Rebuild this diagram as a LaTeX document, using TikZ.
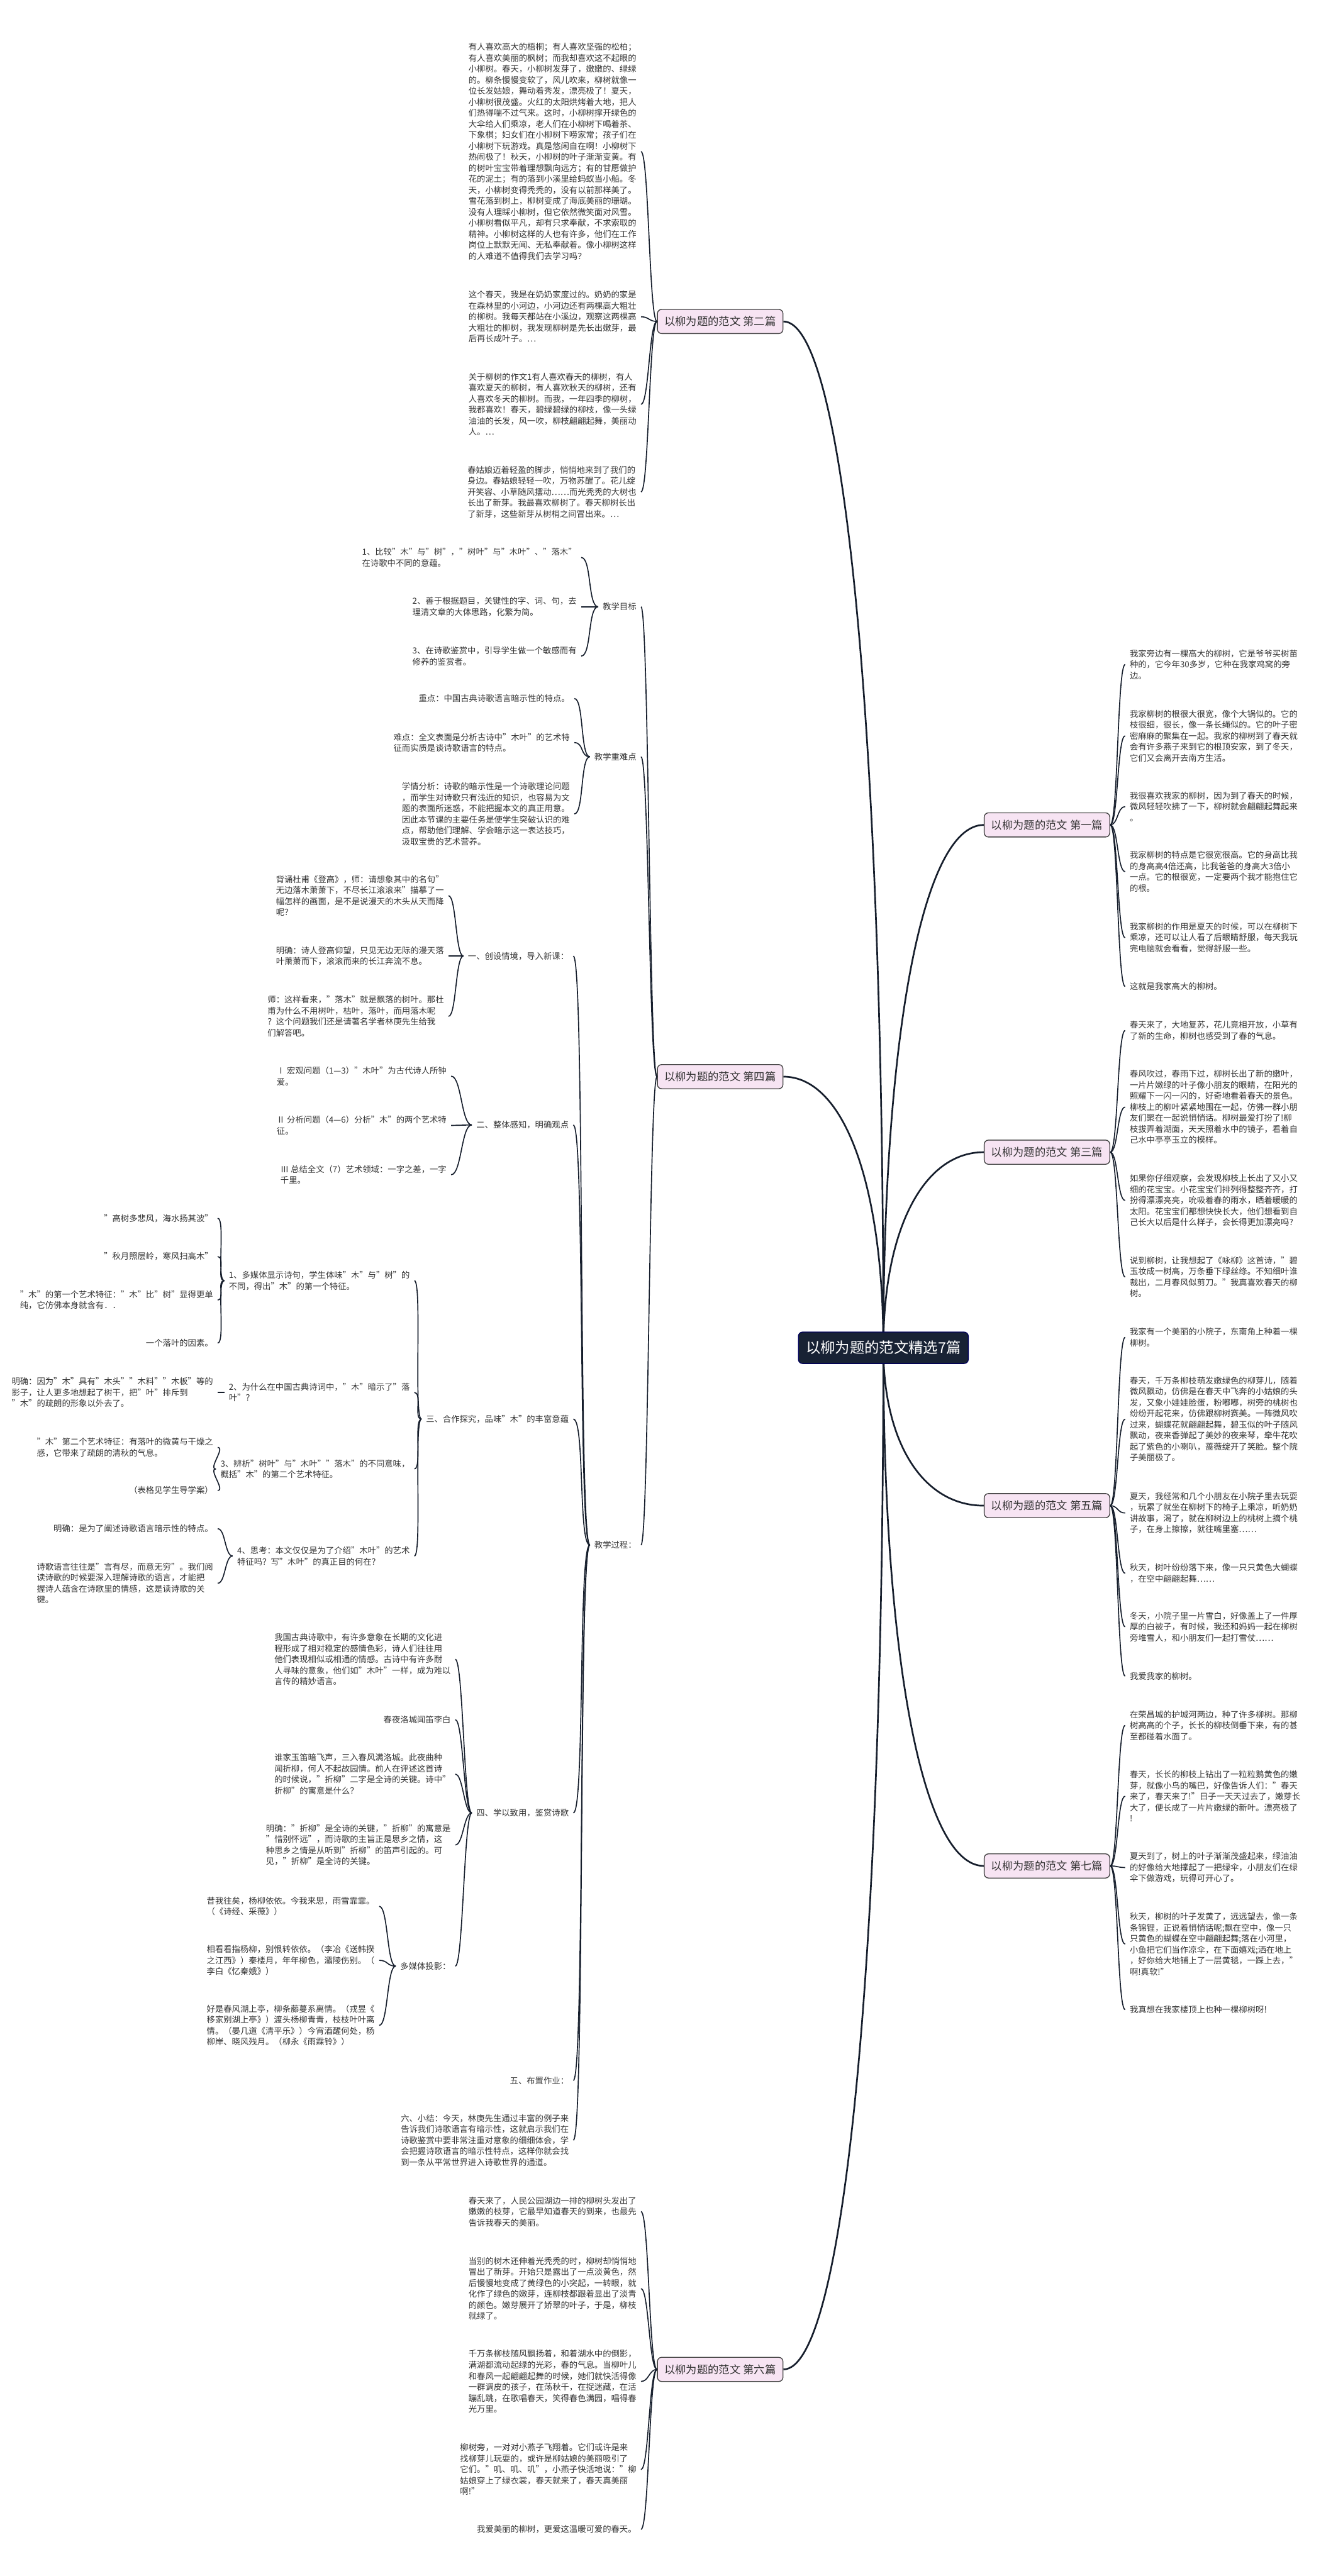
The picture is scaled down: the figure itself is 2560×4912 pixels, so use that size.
\documentclass[tikz,border=0pt]{standalone}
\usepackage{fontspec}
\setmainfont{Noto Sans CJK SC}
\usetikzlibrary{backgrounds}
\definecolor{linknavy}{RGB}{22,30,44}
\definecolor{rootnavy}{RGB}{24,34,52}
\definecolor{branchpink}{RGB}{247,228,243}
\definecolor{textgray}{RGB}{51,51,51}

\begin{document}
\begin{tikzpicture}[
        x=0.25pt, y=-0.25pt,
        rootbox/.style={rectangle, rounded corners=2pt, draw=blue!35!black, fill=rootnavy, text=white, minimum width=81pt, minimum height=15pt, font=\fontsize{7}{8}\selectfont},
        branchbox/.style={rectangle, rounded corners=2pt, draw=black!75, fill=branchpink, text=textgray, minimum width=59pt, minimum height=10pt, font=\fontsize{5.2}{6}\selectfont},
        txt/.style={align=left, inner xsep=2pt, inner ysep=1pt, text=textgray, font=\fontsize{4}{5.25}\selectfont},
        trunk/.style={draw=linknavy, line width=0.8pt},
        link/.style={draw=linknavy, line width=0.5pt}
    ]
        \useasboundingbox (0,0) rectangle (2560,4912);

        % Centre
        \node[rootbox] (root) at (1684,2570) {以柳为题的范文精选7篇};

        % Branches
        \node[branchbox] (b1) at (1996,1573) {以柳为题的范文 第一篇};
        \node[branchbox] (b3) at (1996,2197) {以柳为题的范文 第三篇};
        \node[branchbox] (b5) at (1996,2871) {以柳为题的范文 第五篇};
        \node[branchbox] (b7) at (1996,3558) {以柳为题的范文 第七篇};
        \node[branchbox] (b2) at (1373,613) {以柳为题的范文 第二篇};
        \node[branchbox] (b4) at (1373,2053) {以柳为题的范文 第四篇};
        \node[branchbox] (b6) at (1373,4518) {以柳为题的范文 第六篇};

        % First
        \node[txt, anchor=west] (c1a) at (2145,1267) {我家旁边有一棵高大的柳树，它是爷爷买树苗\\种的，它今年30多岁，它种在我家鸡窝的旁\\边。};
        \node[txt, anchor=west] (c1b) at (2145,1403) {我家柳树的根很大很宽，像个大锅似的。它的\\枝很细，很长，像一条长绳似的。它的叶子密\\密麻麻的聚集在一起。我家的柳树到了春天就\\会有许多燕子来到它的根顶安家，到了冬天，\\它们又会离开去南方生活。};
        \node[txt, anchor=west] (c1c) at (2145,1538) {我很喜欢我家的柳树，因为到了春天的时候，\\微风轻轻吹拂了一下，柳树就会翩翩起舞起来\\。};
        \node[txt, anchor=west] (c1d) at (2145,1662) {我家柳树的特点是它很宽很高。它的身高比我\\的身高高4倍还高，比我爸爸的身高大3倍小\\一点。它的根很宽，一定要两个我才能抱住它\\的根。};
        \node[txt, anchor=west] (c1e) at (2145,1788) {我家柳树的作用是夏天的时候，可以在柳树下\\乘凉，还可以让人看了后眼睛舒服，每天我玩\\完电脑就会看看，觉得舒服一些。};
        \node[txt, anchor=west] (c1f) at (2145,1881) {这就是我家高大的柳树。};

        % Third
        \node[txt, anchor=west] (c3a) at (2145,1965) {春天来了，大地复苏，花儿竟相开放，小草有\\了新的生命，柳树也感受到了春的气息。};
        \node[txt, anchor=west] (c3b) at (2145,2111) {春风吹过，春雨下过，柳树长出了新的嫩叶，\\一片片嫩绿的叶子像小朋友的眼睛，在阳光的\\照耀下一闪一闪的，好奇地看着春天的景色。\\柳枝上的柳叶紧紧地围在一起，仿佛一群小朋\\友们聚在一起说悄悄话。柳树最爱打扮了!柳\\枝拔弄着湖面，天天照着水中的镜子，看着自\\己水中亭亭玉立的模样。};
        \node[txt, anchor=west] (c3c) at (2145,2289) {如果你仔细观察，会发现柳枝上长出了又小又\\细的花宝宝。小花宝宝们排列得整整齐齐，打\\扮得漂漂亮亮，吮吸着春的雨水，晒着暖暖的\\太阳。花宝宝们都想快快长大，他们想看到自\\己长大以后是什么样子，会长得更加漂亮吗?};
        \node[txt, anchor=west] (c3d) at (2145,2435) {说到柳树，让我想起了《咏柳》这首诗，"碧\\玉妆成一树高，万条垂下绿丝绦。不知细叶谁\\裁出，二月春风似剪刀。"我真喜欢春天的柳\\树。};

        % Fifth
        \node[txt, anchor=west] (c5a) at (2145,2550) {我家有一个美丽的小院子，东南角上种着一棵\\柳树。};
        \node[txt, anchor=west] (c5b) at (2145,2706) {春天，千万条柳枝萌发嫩绿色的柳芽儿，随着\\微风飘动，仿佛是在春天中飞奔的小姑娘的头\\发，又象小娃娃脸蛋，粉嘟嘟，树旁的桃树也\\纷纷开起花来，仿佛跟柳树赛美。一阵微风吹\\过来，蝴蝶花就翩翩起舞，碧玉似的叶子随风\\飘动，夜来香弹起了美妙的夜来琴，牵牛花吹\\起了紫色的小喇叭，蔷薇绽开了笑脸。整个院\\子美丽极了。};
        \node[txt, anchor=west] (c5c) at (2145,2885) {夏天，我经常和几个小朋友在小院子里去玩耍\\，玩累了就坐在柳树下的椅子上乘凉，听奶奶\\讲故事，渴了，就在柳树边上的桃树上摘个桃\\子，在身上擦擦，就往嘴里塞……};
        \node[txt, anchor=west] (c5d) at (2145,3000) {秋天，树叶纷纷落下来，像一只只黄色大蝴蝶\\，在空中翩翩起舞……};
        \node[txt, anchor=west] (c5e) at (2145,3102) {冬天，小院子里一片雪白，好像盖上了一件厚\\厚的白被子，有时候，我还和妈妈一起在柳树\\旁堆雪人，和小朋友们一起打雪仗……};
        \node[txt, anchor=west] (c5f) at (2145,3196) {我爱我家的柳树。};

        % Seventh
        \node[txt, anchor=west] (c7a) at (2145,3290) {在荣昌城的护城河两边，种了许多柳树。那柳\\树高高的个子，长长的柳枝倒垂下来，有的甚\\至都碰着水面了。};
        \node[txt, anchor=west] (c7b) at (2145,3425) {春天，长长的柳枝上钻出了一粒粒鹅黄色的嫩\\芽，就像小鸟的嘴巴，好像告诉人们："春天\\来了，春天来了!"日子一天天过去了，嫩芽长\\大了，便长成了一片片嫩绿的新叶。漂亮极了\\!};
        \node[txt, anchor=west] (c7c) at (2145,3561) {夏天到了，树上的叶子渐渐茂盛起来，绿油油\\的好像给大地撑起了一把绿伞，小朋友们在绿\\伞下做游戏，玩得可开心了。};
        \node[txt, anchor=west] (c7d) at (2145,3707) {秋天，柳树的叶子发黄了，远远望去，像一条\\条锦锂，正说着悄悄话呢;飘在空中，像一只\\只黄色的蝴蝶在空中翩翩起舞;落在小河里，\\小鱼把它们当作凉伞，在下面嬉戏;洒在地上\\，好你给大地铺上了一层黄毯，一踩上去，"\\啊!真软!"};
        \node[txt, anchor=west] (c7e) at (2145,3832) {我真想在我家楼顶上也种一棵柳树呀!};

        % Second
        \node[txt, anchor=east] (c2a) at (1222,289) {有人喜欢高大的梧桐；有人喜欢坚强的松柏；\\有人喜欢美丽的枫树；而我却喜欢这不起眼的\\小柳树。春天，小柳树发芽了，嫩嫩的、绿绿\\的。柳条慢慢变软了，风儿吹来，柳树就像一\\位长发姑娘，舞动着秀发，漂亮极了！夏天，\\小柳树很茂盛。火红的太阳烘烤着大地，把人\\们热得喘不过气来。这时，小柳树撑开绿色的\\大伞给人们乘凉，老人们在小柳树下喝着茶、\\下象棋；妇女们在小柳树下唠家常；孩子们在\\小柳树下玩游戏。真是悠闲自在啊！小柳树下\\热闹极了！秋天，小柳树的叶子渐渐变黄。有\\的树叶宝宝带着理想飘向远方；有的甘愿做护\\花的泥土；有的落到小溪里给蚂蚁当小船。冬\\天，小柳树变得秃秃的，没有以前那样美了。\\雪花落到树上，柳树变成了海底美丽的珊瑚。\\没有人理睬小柳树，但它依然微笑面对风雪。\\小柳树看似平凡，却有只求奉献，不求索取的\\精神。小柳树这样的人也有许多，他们在工作\\岗位上默默无闻、无私奉献着。像小柳树这样\\的人难道不值得我们去学习吗？};
        \node[txt, anchor=east] (c2b) at (1222,604) {这个春天，我是在奶奶家度过的。奶奶的家是\\在森林里的小河边，小河边还有两棵高大粗壮\\的柳树。我每天都站在小溪边，观察这两棵高\\大粗壮的柳树，我发现柳树是先长出嫩芽，最\\后再长成叶子。…};
        \node[txt, anchor=east] (c2c) at (1222,771) {关于柳树的作文1有人喜欢春天的柳树，有人\\喜欢夏天的柳树，有人喜欢秋天的柳树，还有\\人喜欢冬天的柳树。而我，一年四季的柳树，\\我都喜欢！春天，碧绿碧绿的柳枝，像一头绿\\油油的长发，风一吹，柳枝翩翩起舞，美丽动\\人。…};
        \node[txt, anchor=east] (c2d) at (1222,938) {春姑娘迈着轻盈的脚步，悄悄地来到了我们的\\身边。春姑娘轻轻一吹，万物苏醒了。花儿绽\\开笑容、小草随风摆动……而光秃秃的大树也\\长出了新芽。我最喜欢柳树了。春天柳树长出\\了新芽，这些新芽从树梢之间冒出来。…};

        % Sixth
        \node[txt, anchor=east] (c6a) at (1222,4217) {春天来了，人民公园湖边一排的柳树头发出了\\嫩嫩的枝芽，它最早知道春天的到来，也最先\\告诉我春天的美丽。};
        \node[txt, anchor=east] (c6b) at (1222,4364) {当别的树木还伸着光秃秃的时，柳树却悄悄地\\冒出了新芽。开始只是露出了一点淡黄色，然\\后慢慢地变成了黄绿色的小突起，一转眼，就\\化作了绿色的嫩芽，连柳枝都跟着显出了淡青\\的颜色。嫩芽展开了娇翠的叶子，于是，柳枝\\就绿了。};
        \node[txt, anchor=east] (c6c) at (1222,4541) {千万条柳枝随风飘扬着，和着湖水中的倒影，\\满湖都流动起绿的光彩，春的气息。当柳叶儿\\和春风一起翩翩起舞的时候，她们就快活得像\\一群调皮的孩子，在荡秋千，在捉迷藏，在活\\蹦乱跳，在歌唱春天，笑得春色满园，唱得春\\光万里。};
        \node[txt, anchor=east] (c6d) at (1222,4709) {柳树旁，一对对小燕子飞翔着。它们或许是来\\找柳芽儿玩耍的，或许是柳姑娘的美丽吸引了\\它们。"叽、叽、叽"，小燕子快活地说："柳\\姑娘穿上了绿衣裳，春天就来了，春天真美丽\\啊!"};
        \node[txt, anchor=east] (c6e) at (1222,4823) {我爱美丽的柳树，更爱这温暖可爱的春天。};

        % Fourth
        \node[txt, anchor=east] (goal) at (1222,1157) {教学目标};
        \node[txt, anchor=east] (key) at (1222,1443) {教学重难点};
        \node[txt, anchor=east] (proc) at (1222,2946) {教学过程：};

        \node[txt, anchor=east] (g1) at (1108,1063) {1、比较"木"与"树"，"树叶"与"木叶"、"落木"\\在诗歌中不同的意蕴。};
        \node[txt, anchor=east] (g2) at (1108,1157) {2、善于根据题目，关键性的字、词、句，去\\理清文章的大体思路，化繁为简。};
        \node[txt, anchor=east] (g3) at (1108,1251) {3、在诗歌鉴赏中，引导学生做一个敏感而有\\修养的鉴赏者。};

        \node[txt, anchor=east] (k1) at (1095,1332) {重点：中国古典诗歌语言暗示性的特点。};
        \node[txt, anchor=east] (k2) at (1095,1416) {难点：全文表面是分析古诗中"木叶"的艺术特\\征而实质是谈诗歌语言的特点。};
        \node[txt, anchor=east] (k3) at (1095,1552) {学情分析：诗歌的暗示性是一个诗歌理论问题\\，而学生对诗歌只有浅近的知识，也容易为文\\题的表面所迷惑，不能把握本文的真正用意。\\因此本节课的主要任务是使学生突破认识的难\\点，帮助他们理解、学会暗示这一表达技巧，\\汲取宝贵的艺术营养。};

        \node[txt, anchor=east] (s1) at (1093,1823) {一、创设情境，导入新课：};
        \node[txt, anchor=east] (s2) at (1093,2145) {二、整体感知，明确观点};
        \node[txt, anchor=east] (s3) at (1093,2706) {三、合作探究，品味"木"的丰富意蕴};
        \node[txt, anchor=east] (s4) at (1093,3457) {四、学以致用，鉴赏诗歌};
        \node[txt, anchor=east] (s5) at (1093,3967) {五、布置作业：};
        \node[txt, anchor=east] (s6) at (1093,4081) {六、小结：今天，林庚先生通过丰富的例子来\\告诉我们诗歌语言有暗示性，这就启示我们在\\诗歌鉴赏中要非常注重对意象的细细体会，学\\会把握诗歌语言的暗示性特点，这样你就会找\\到一条从平常世界进入诗歌世界的通道。};

        \node[txt, anchor=east] (d1) at (855,1708) {背诵杜甫《登高》，师：请想象其中的名句"\\无边落木萧萧下，不尽长江滚滚来"描摹了一\\幅怎样的画面，是不是说漫天的木头从天而降\\呢？};
        \node[txt, anchor=east] (d2) at (855,1823) {明确：诗人登高仰望，只见无边无际的漫天落\\叶萧萧而下，滚滚而来的长江奔流不息。};
        \node[txt, anchor=east] (d3) at (855,1938) {师：这样看来，"落木"就是飘落的树叶。那杜\\甫为什么不用树叶，枯叶，落叶，而用落木呢\\？这个问题我们还是请著名学者林庚先生给我\\们解答吧。};

        \node[txt, anchor=east] (e1) at (860,2052) {Ⅰ 宏观问题（1—3）"木叶"为古代诗人所钟\\爱。};
        \node[txt, anchor=east] (e2) at (860,2146) {Ⅱ 分析问题（4—6）分析"木"的两个艺术特\\征。};
        \node[txt, anchor=east] (e3) at (860,2240) {Ⅲ 总结全文（7）艺术领域：一字之差，一字\\千里。};

        \node[txt, anchor=east] (t1) at (790,2442) {1、多媒体显示诗句，学生体味"木"与"树"的\\不同，得出"木"的第一个特征。};
        \node[txt, anchor=east] (t2) at (790,2655) {2、为什么在中国古典诗词中，"木"暗示了"落\\叶"？};
        \node[txt, anchor=east] (t3) at (790,2801) {3、辨析"树叶"与"木叶""落木"的不同意味，\\概括"木"的第二个艺术特征。};
        \node[txt, anchor=east] (t4) at (790,2967) {4、思考：本文仅仅是为了介绍"木叶"的艺术\\特征吗？写"木叶"的真正目的何在？};

        \node[txt, anchor=east] (u1) at (415,2323) {"高树多悲风，海水扬其波"};
        \node[txt, anchor=east] (u2) at (415,2396) {"秋月照层岭，寒风扫高木"};
        \node[txt, anchor=east] (u3) at (415,2479) {"木"的第一个艺术特征："木"比"树"显得更单\\纯，它仿佛本身就含有．．};
        \node[txt, anchor=east] (u4) at (415,2561) {一个落叶的因素。};
        \node[txt, anchor=east] (v1) at (415,2655) {明确：因为"木"具有"木头""木料""木板"等的\\影子，让人更多地想起了树干，把"叶"排斥到\\"木"的疏朗的形象以外去了。};
        \node[txt, anchor=east] (w1) at (415,2760) {"木"第二个艺术特征：有落叶的微黄与干燥之\\感，它带来了疏朗的清秋的气息。};
        \node[txt, anchor=east] (w2) at (415,2842) {（表格见学生导学案）};
        \node[txt, anchor=east] (x1) at (415,2915) {明确：是为了阐述诗歌语言暗示性的特点。};
        \node[txt, anchor=east] (x2) at (415,3019) {诗歌语言往往是"言有尽，而意无穷"。我们阅\\读诗歌的时候要深入理解诗歌的语言，才能把\\握诗人蕴含在诗歌里的情感，这是读诗歌的关\\键。};

        \node[txt, anchor=east] (y1) at (868,3164) {我国古典诗歌中，有许多意象在长期的文化进\\程形成了相对稳定的感情色彩，诗人们往往用\\他们表现相似或相通的情感。古诗中有许多耐\\人寻味的意象，他们如"木叶"一样，成为难以\\言传的精妙语言。};
        \node[txt, anchor=east] (y2) at (868,3279) {春夜洛城闻笛李白};
        \node[txt, anchor=east] (y3) at (868,3383) {谁家玉笛暗飞声，三入春风满洛城。此夜曲种\\闻折柳，何人不起故园情。前人在评述这首诗\\的时候说，"折柳"二字是全诗的关键。诗中"\\折柳"的寓意是什么？};
        \node[txt, anchor=east] (y4) at (868,3518) {明确："折柳"是全诗的关键，"折柳"的寓意是\\"惜别怀远"，而诗歌的主旨正是思乡之情，这\\种思乡之情是从听到"折柳"的笛声引起的。可\\见，"折柳"是全诗的关键。};
        \node[txt, anchor=east] (y5) at (868,3749) {多媒体投影：};

        \node[txt, anchor=east] (z1) at (723,3635) {昔我往矣，杨柳依依。今我来思，雨雪霏霏。\\（《诗经、采薇》）};
        \node[txt, anchor=east] (z2) at (723,3738) {相看看指杨柳，别恨转依依。（李冶《送韩揆\\之江西》）秦楼月，年年柳色，灞陵伤别。（\\李白《忆秦娥》）};
        \node[txt, anchor=east] (z3) at (723,3862) {好是春风湖上亭，柳条藤蔓系离情。（戎昱《\\移家别湖上亭》）渡头杨柳青青，枝枝叶叶离\\情。（晏几道《清平乐》）今宵酒醒何处，杨\\柳岸、晓风残月。（柳永《雨霖铃》）};

        % Connectors
        \begin{scope}[on background layer]
        \draw[trunk] (root.center) .. controls +(0,-598) and +(-116,0) .. (b1.west);
        \draw[trunk] (root.center) .. controls +(0,-224) and +(-116,0) .. (b3.west);
        \draw[trunk] (root.center) .. controls +(0,181) and +(-116,0) .. (b5.west);
        \draw[trunk] (root.center) .. controls +(0,593) and +(-116,0) .. (b7.west);
        \draw[trunk] (root.center) .. controls +(0,-1174) and +(116,0) .. (b2.east);
        \draw[trunk] (root.center) .. controls +(0,-310) and +(116,0) .. (b4.east);
        \draw[trunk] (root.center) .. controls +(0,1169) and +(116,0) .. (b6.east);
        \end{scope}

        \draw[link] (b1.east) .. controls +(15,0) and +(-15,0) .. (c1a.west);
        \draw[link] (b1.east) .. controls +(15,0) and +(-15,0) .. (c1b.west);
        \draw[link] (b1.east) .. controls +(15,0) and +(-15,0) .. (c1c.west);
        \draw[link] (b1.east) .. controls +(15,0) and +(-15,0) .. (c1d.west);
        \draw[link] (b1.east) .. controls +(15,0) and +(-15,0) .. (c1e.west);
        \draw[link] (b1.east) .. controls +(15,0) and +(-15,0) .. (c1f.west);

        \draw[link] (b3.east) .. controls +(15,0) and +(-15,0) .. (c3a.west);
        \draw[link] (b3.east) .. controls +(15,0) and +(-15,0) .. (c3b.west);
        \draw[link] (b3.east) .. controls +(15,0) and +(-15,0) .. (c3c.west);
        \draw[link] (b3.east) .. controls +(15,0) and +(-15,0) .. (c3d.west);

        \draw[link] (b5.east) .. controls +(15,0) and +(-15,0) .. (c5a.west);
        \draw[link] (b5.east) .. controls +(15,0) and +(-15,0) .. (c5b.west);
        \draw[link] (b5.east) .. controls +(15,0) and +(-15,0) .. (c5c.west);
        \draw[link] (b5.east) .. controls +(15,0) and +(-15,0) .. (c5d.west);
        \draw[link] (b5.east) .. controls +(15,0) and +(-15,0) .. (c5e.west);
        \draw[link] (b5.east) .. controls +(15,0) and +(-15,0) .. (c5f.west);

        \draw[link] (b7.east) .. controls +(15,0) and +(-15,0) .. (c7a.west);
        \draw[link] (b7.east) .. controls +(15,0) and +(-15,0) .. (c7b.west);
        \draw[link] (b7.east) .. controls +(15,0) and +(-15,0) .. (c7c.west);
        \draw[link] (b7.east) .. controls +(15,0) and +(-15,0) .. (c7d.west);
        \draw[link] (b7.east) .. controls +(15,0) and +(-15,0) .. (c7e.west);

        \draw[link] (b2.west) .. controls +(-15,0) and +(15,0) .. (c2a.east);
        \draw[link] (b2.west) .. controls +(-15,0) and +(15,0) .. (c2b.east);
        \draw[link] (b2.west) .. controls +(-15,0) and +(15,0) .. (c2c.east);
        \draw[link] (b2.west) .. controls +(-15,0) and +(15,0) .. (c2d.east);

        \draw[link] (b6.west) .. controls +(-15,0) and +(15,0) .. (c6a.east);
        \draw[link] (b6.west) .. controls +(-15,0) and +(15,0) .. (c6b.east);
        \draw[link] (b6.west) .. controls +(-15,0) and +(15,0) .. (c6c.east);
        \draw[link] (b6.west) .. controls +(-15,0) and +(15,0) .. (c6d.east);
        \draw[link] (b6.west) .. controls +(-15,0) and +(15,0) .. (c6e.east);

        \draw[link] (b4.west) .. controls +(-15,0) and +(15,0) .. (goal.east);
        \draw[link] (b4.west) .. controls +(-15,0) and +(15,0) .. (key.east);
        \draw[link] (b4.west) .. controls +(-15,0) and +(15,0) .. (proc.east);

        \draw[link] (goal.west) .. controls +(-20,0) and +(20,0) .. (g1.east);
        \draw[link] (goal.west) .. controls +(-20,0) and +(20,0) .. (g2.east);
        \draw[link] (goal.west) .. controls +(-20,0) and +(20,0) .. (g3.east);

        \draw[link] (key.west) .. controls +(-18,0) and +(18,0) .. (k1.east);
        \draw[link] (key.west) .. controls +(-18,0) and +(18,0) .. (k2.east);
        \draw[link] (key.west) .. controls +(-18,0) and +(18,0) .. (k3.east);

        \draw[link] (proc.west) .. controls +(-22,0) and +(22,0) .. (s1.east);
        \draw[link] (proc.west) .. controls +(-22,0) and +(22,0) .. (s2.east);
        \draw[link] (proc.west) .. controls +(-22,0) and +(22,0) .. (s3.east);
        \draw[link] (proc.west) .. controls +(-22,0) and +(22,0) .. (s4.east);
        \draw[link] (proc.west) .. controls +(-22,0) and +(22,0) .. (s5.east);
        \draw[link] (proc.west) .. controls +(-22,0) and +(22,0) .. (s6.east);

        \draw[link] (s1.west) .. controls +(-15,0) and +(15,0) .. (d1.east);
        \draw[link] (s1.west) .. controls +(-15,0) and +(15,0) .. (d2.east);
        \draw[link] (s1.west) .. controls +(-15,0) and +(15,0) .. (d3.east);

        \draw[link] (s2.west) .. controls +(-20,0) and +(20,0) .. (e1.east);
        \draw[link] (s2.west) .. controls +(-20,0) and +(20,0) .. (e2.east);
        \draw[link] (s2.west) .. controls +(-20,0) and +(20,0) .. (e3.east);

        \draw[link] (s3.west) .. controls +(-15,0) and +(15,0) .. (t1.east);
        \draw[link] (s3.west) .. controls +(-15,0) and +(15,0) .. (t2.east);
        \draw[link] (s3.west) .. controls +(-15,0) and +(15,0) .. (t3.east);
        \draw[link] (s3.west) .. controls +(-15,0) and +(15,0) .. (t4.east);

        \draw[link] (t1.west) .. controls +(-15,0) and +(15,0) .. (u1.east);
        \draw[link] (t1.west) .. controls +(-15,0) and +(15,0) .. (u2.east);
        \draw[link] (t1.west) .. controls +(-15,0) and +(15,0) .. (u3.east);
        \draw[link] (t1.west) .. controls +(-15,0) and +(15,0) .. (u4.east);
        \draw[link] (t2.west) -- (v1.east);
        \draw[link] (t3.west) .. controls +(-15,0) and +(15,0) .. (w1.east);
        \draw[link] (t3.west) .. controls +(-15,0) and +(15,0) .. (w2.east);
        \draw[link] (t4.west) .. controls +(-15,0) and +(15,0) .. (x1.east);
        \draw[link] (t4.west) .. controls +(-15,0) and +(15,0) .. (x2.east);

        \draw[link] (s4.west) .. controls +(-15,0) and +(15,0) .. (y1.east);
        \draw[link] (s4.west) .. controls +(-15,0) and +(15,0) .. (y2.east);
        \draw[link] (s4.west) .. controls +(-15,0) and +(15,0) .. (y3.east);
        \draw[link] (s4.west) .. controls +(-15,0) and +(15,0) .. (y4.east);
        \draw[link] (s4.west) .. controls +(-15,0) and +(15,0) .. (y5.east);

        \draw[link] (y5.west) .. controls +(-17,0) and +(17,0) .. (z1.east);
        \draw[link] (y5.west) .. controls +(-17,0) and +(17,0) .. (z2.east);
        \draw[link] (y5.west) .. controls +(-17,0) and +(17,0) .. (z3.east);
    \end{tikzpicture}
\end{document}
